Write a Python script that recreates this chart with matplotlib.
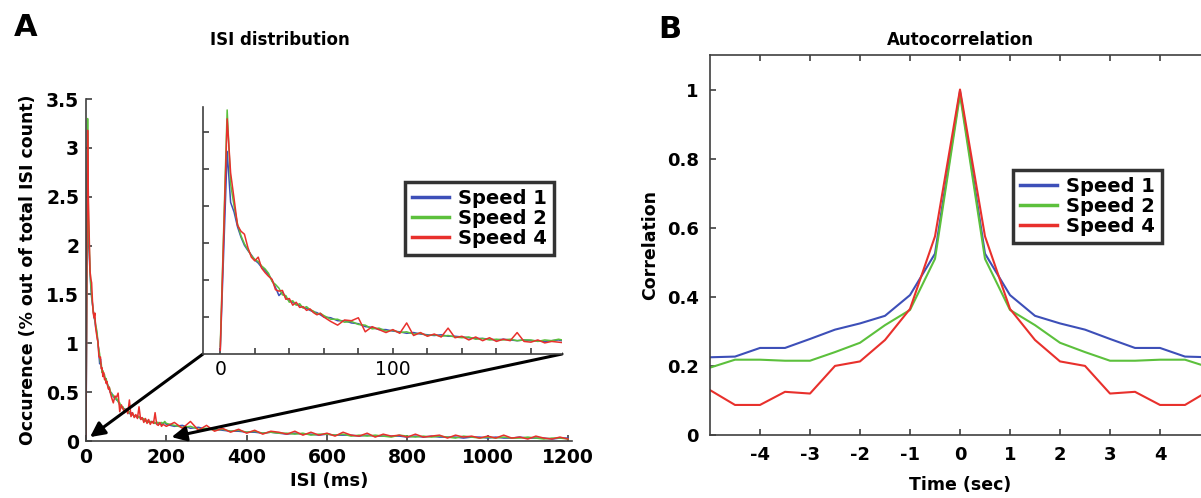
import matplotlib
matplotlib.use("Agg")
import matplotlib.pyplot as plt
import numpy as np

plt.rcParams["axes.unicode_minus"] = False

# --- data ---
# ISI bin centres (ms): fine near the peak, coarser in the tail
isi_ms = np.r_[0, np.arange(4, 60, 2), np.arange(60, 200, 4), np.arange(200, 1201, 20)]

isi_speed1 = [0.05, 2.74, 2.05, 1.92, 1.72, 1.58, 1.47, 1.40, 1.34, 1.27, 1.23, 1.17, 1.13, 1.07, 1.00,
              0.90, 0.79, 0.84, 0.76, 0.72, 0.70, 0.67, 0.66, 0.63, 0.62, 0.59, 0.57, 0.56, 0.53,
              0.50, 0.49, 0.45, 0.45, 0.42, 0.41, 0.37, 0.36, 0.33, 0.33, 0.31, 0.30, 0.28, 0.29, 0.27,
              0.26, 0.25, 0.26, 0.24, 0.24, 0.23, 0.22, 0.21, 0.21, 0.20, 0.19, 0.20, 0.19, 0.18, 0.19,
              0.18, 0.18, 0.17, 0.18, 0.19,
              0.17, 0.15, 0.16, 0.13, 0.14, 0.12, 0.12, 0.11, 0.10, 0.10, 0.09, 0.09, 0.08, 0.09, 0.08,
              0.07, 0.08, 0.07, 0.07, 0.06, 0.07, 0.06, 0.06, 0.06, 0.05, 0.06, 0.05, 0.05, 0.05, 0.05,
              0.04, 0.05, 0.04, 0.05, 0.04, 0.04, 0.04, 0.03, 0.04, 0.04, 0.03, 0.04, 0.03, 0.03, 0.04,
              0.03, 0.03, 0.03, 0.02, 0.03, 0.03]
isi_speed2 = [0.10, 3.30, 2.30, 2.00, 1.76, 1.60, 1.49, 1.41, 1.33, 1.28, 1.25, 1.19, 1.15, 1.09, 0.98,
              0.94, 0.89, 0.80, 0.79, 0.70, 0.72, 0.66, 0.68, 0.62, 0.64, 0.60, 0.58, 0.54, 0.55,
              0.52, 0.47, 0.47, 0.43, 0.44, 0.40, 0.39, 0.34, 0.35, 0.31, 0.32, 0.29, 0.30, 0.27, 0.28,
              0.25, 0.26, 0.24, 0.25, 0.23, 0.22, 0.23, 0.20, 0.21, 0.19, 0.20, 0.19, 0.20, 0.18, 0.19,
              0.19, 0.17, 0.19, 0.18, 0.20,
              0.18, 0.16, 0.14, 0.15, 0.12, 0.13, 0.11, 0.12, 0.10, 0.11, 0.09, 0.10, 0.08, 0.09, 0.08,
              0.08, 0.07, 0.08, 0.06, 0.07, 0.07, 0.06, 0.07, 0.05, 0.06, 0.05, 0.06, 0.05, 0.04, 0.06,
              0.05, 0.04, 0.05, 0.04, 0.05, 0.04, 0.03, 0.05, 0.04, 0.03, 0.04, 0.03, 0.04, 0.03, 0.03,
              0.04, 0.03, 0.02, 0.03, 0.03, 0.02]
isi_speed4 = [0.05, 3.18, 2.45, 2.10, 1.74, 1.66, 1.62, 1.44, 1.31, 1.26, 1.31, 1.16, 1.10, 1.05, 1.01,
              0.87, 0.85, 0.86, 0.74, 0.75, 0.66, 0.70, 0.63, 0.64, 0.59, 0.61, 0.56, 0.53, 0.55,
              0.50, 0.44, 0.39, 0.46, 0.45, 0.49, 0.30, 0.37, 0.33, 0.29, 0.33, 0.28, 0.42, 0.25, 0.29,
              0.24, 0.27, 0.23, 0.35, 0.22, 0.24, 0.19, 0.23, 0.18, 0.22, 0.17, 0.20, 0.18, 0.29, 0.17,
              0.16, 0.19, 0.15, 0.17, 0.16,
              0.15, 0.19, 0.13, 0.20, 0.11, 0.16, 0.10, 0.13, 0.09, 0.12, 0.08, 0.11, 0.07, 0.10, 0.09,
              0.07, 0.10, 0.06, 0.09, 0.06, 0.08, 0.05, 0.09, 0.06, 0.05, 0.08, 0.04, 0.07, 0.05, 0.06,
              0.04, 0.07, 0.04, 0.05, 0.06, 0.03, 0.06, 0.04, 0.05, 0.03, 0.05, 0.03, 0.06, 0.03, 0.04,
              0.02, 0.05, 0.03, 0.02, 0.04, 0.02]

lag_sec = np.arange(-5, 5.01, 0.5)
corr_speed1 = [0.225, 0.227, 0.252, 0.252, 0.278, 0.305, 0.323, 0.345, 0.405, 0.525, 0.995,
               0.525, 0.405, 0.345, 0.323, 0.305, 0.278, 0.252, 0.252, 0.227, 0.225]
corr_speed2 = [0.195, 0.218, 0.218, 0.215, 0.215, 0.240, 0.267, 0.318, 0.362, 0.510, 0.985,
               0.510, 0.362, 0.318, 0.267, 0.240, 0.215, 0.215, 0.218, 0.218, 0.195]
corr_speed4 = [0.130, 0.087, 0.087, 0.125, 0.120, 0.200, 0.213, 0.275, 0.365, 0.575, 1.000,
               0.575, 0.365, 0.275, 0.213, 0.200, 0.120, 0.125, 0.087, 0.087, 0.130]

labels = ["Speed 1", "Speed 2", "Speed 4"]
colors = ["#3d4fb8", "#5cc03c", "#e8302c"]

W, H = 1201, 498
fig = plt.figure(figsize=(W / 100, H / 100), dpi=100)


def box(x0, y0, x1, y1):
    # pixel box (top-left origin) -> figure fraction rect
    return [x0 / W, 1 - y1 / H, (x1 - x0) / W, (y1 - y0) / H]


spine_col = "#404040"
tick_kw = dict(direction="in", length=4, width=1.2, colors=spine_col, labelcolor="black")

# ---------- panel A: main ISI histogram ----------
ax = fig.add_axes(box(86, 99, 572, 441))
for y, c in zip([isi_speed1, isi_speed2, isi_speed4], colors):
    ax.plot(isi_ms, y, color=c, lw=1.1)
ax.set_xlim(0, 1210)
ax.set_ylim(0, 3.5)
ax.set_xticks([0, 200, 400, 600, 800, 1000, 1200])
ax.set_yticks([0, 0.5, 1, 1.5, 2, 2.5, 3, 3.5])
ax.set_yticklabels(["0", "0.5", "1", "1.5", "2", "2.5", "3", "3.5"])
ax.tick_params(labelsize=13.5, pad=5, **tick_kw)
for t in ax.get_xticklabels() + ax.get_yticklabels():
    t.set_fontweight("bold")
for s in ["top", "right"]:
    ax.spines[s].set_visible(False)
for s in ["left", "bottom"]:
    ax.spines[s].set_color(spine_col)
    ax.spines[s].set_linewidth(1.2)
ax.set_xlabel("ISI (ms)", fontsize=13, fontweight="bold")
ax.xaxis.set_label_coords(0.5, -0.092)
ax.set_ylabel("Occurence (% out of total ISI count)", fontsize=12.5, fontweight="bold")
ax.yaxis.set_label_coords(-0.1, 0.5)

# ---------- panel A: inset (first 200 ms) ----------
ins = fig.add_axes(box(203, 107, 562, 354))
lines = []
for y, c, lab in zip([isi_speed1, isi_speed2, isi_speed4], colors, labels):
    ln, = ins.plot(isi_ms, y, color=c, lw=1.1, label=lab)
    lines.append(ln)
ins.set_xlim(-10, 198)
ins.set_ylim(0, 3.34)
ins.set_xticks(np.arange(0, 181, 20))
ins.set_xticklabels(["0", "", "", "", "", "100", "", "", "", ""])
ins.set_yticks([0.5, 1, 1.5, 2, 2.5, 3])
ins.set_yticklabels([])
ins.tick_params(labelsize=13.5, pad=4, **tick_kw)
for s in ["top", "right"]:
    ins.spines[s].set_visible(False)
for s in ["left", "bottom"]:
    ins.spines[s].set_color(spine_col)
    ins.spines[s].set_linewidth(1.2)

leg = ins.legend(handles=lines, loc="upper left", bbox_to_anchor=((405 - 203) / 359, 1 - (182 - 107) / 247),
                 prop=dict(size=14, weight="bold"), frameon=True, fancybox=False,
                 handlelength=1.9, handletextpad=0.5, labelspacing=0.05, borderpad=0.35,
                 borderaxespad=0)
leg.get_frame().set_edgecolor("black")
leg.get_frame().set_linewidth(2.5)
for ln in leg.get_lines():
    ln.set_linewidth(2.5)

# arrows from inset corners down to the zoomed region of the main axes
arrow_kw = dict(arrowstyle="-|>", color="black", lw=2.2, mutation_scale=22, shrinkA=0, shrinkB=0)
ax.annotate("", xy=(10, 0.04), xycoords="data", xytext=(0, 0), textcoords=ins.transAxes,
            arrowprops=arrow_kw, annotation_clip=False)
ax.annotate("", xy=(213, 0.04), xycoords="data", xytext=(1, 0), textcoords=ins.transAxes,
            arrowprops=arrow_kw, annotation_clip=False)

fig.text(280 / W, 1 - 40 / H, "ISI distribution", fontsize=12, fontweight="bold", ha="center", va="center")
fig.text(26 / W, 1 - 28 / H, "A", fontsize=22, fontweight="heavy", ha="center", va="center")

# ---------- panel B: autocorrelation ----------
bx = fig.add_axes(box(710, 55, 1210, 435))
blines = []
for y, c, lab in zip([corr_speed1, corr_speed2, corr_speed4], colors, labels):
    ln, = bx.plot(lag_sec, y, color=c, lw=1.5, label=lab)
    blines.append(ln)
bx.set_xlim(-5, 5)
bx.set_ylim(0, 1.1)
bx.set_xticks([-4, -3, -2, -1, 0, 1, 2, 3, 4])
bx.set_yticks([0, 0.2, 0.4, 0.6, 0.8, 1])
bx.set_yticklabels(["0", "0.2", "0.4", "0.6", "0.8", "1"])
bx.tick_params(labelsize=13, top=True, right=True, pad=8, **tick_kw)
for t in bx.get_xticklabels() + bx.get_yticklabels():
    t.set_fontweight("bold")
for s in bx.spines.values():
    s.set_color(spine_col)
    s.set_linewidth(1.2)
bx.set_xlabel("Time (sec)", fontsize=12.5, fontweight="bold")
bx.xaxis.set_label_coords(0.5, -0.108)
bx.set_ylabel("Correlation", fontsize=12.5, fontweight="bold")
bx.yaxis.set_label_coords(-0.102, 0.5)

bleg = bx.legend(handles=blines, loc="upper left", bbox_to_anchor=((1013 - 710) / 500, 1 - (170 - 55) / 380),
                 prop=dict(size=14, weight="bold"), frameon=True, fancybox=False,
                 handlelength=1.9, handletextpad=0.5, labelspacing=0.05, borderpad=0.35,
                 borderaxespad=0)
bleg.get_frame().set_edgecolor("black")
bleg.get_frame().set_linewidth(2.5)
for ln in bleg.get_lines():
    ln.set_linewidth(2.5)

fig.text(960 / W, 1 - 40 / H, "Autocorrelation", fontsize=12, fontweight="bold", ha="center", va="center")
fig.text(670 / W, 1 - 30 / H, "B", fontsize=22, fontweight="heavy", ha="center", va="center")

fig.savefig("out.png", dpi=100)
